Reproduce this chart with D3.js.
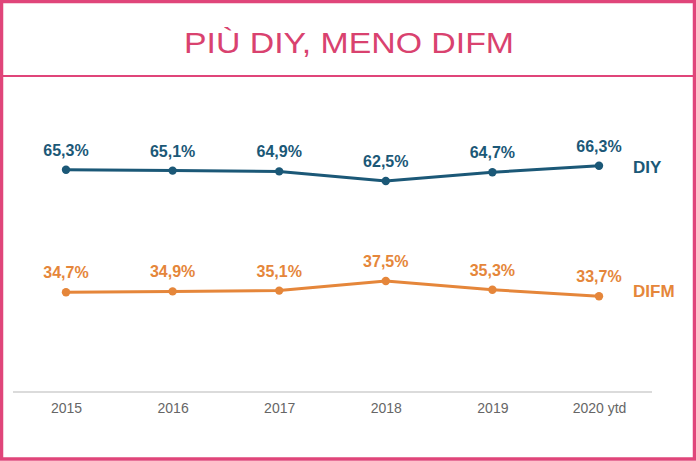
<!DOCTYPE html>
<html><head><meta charset="utf-8">
<script src="https://cdn.jsdelivr.net/npm/d3@7"></script>
<style>html,body{margin:0;padding:0;background:#fff;}svg{display:block;}</style>
</head><body>
<script>
const title = "PIÙ DIY, MENO DIFM";
const categories = ["2015","2016","2017","2018","2019","2020 ytd"];
const diyValues = [65.3, 65.1, 64.9, 62.5, 64.7, 66.3];
const difmValues = [34.7, 34.9, 35.1, 37.5, 35.3, 33.7];
const diyLabels = ["65,3%","65,1%","64,9%","62,5%","64,7%","66,3%"];
const difmLabels = ["34,7%","34,9%","35,1%","37,5%","35,3%","33,7%"];
const seriesNames = ["DIY","DIFM"];

const W = 696, H = 461;
const pink = "#e0457a", pinkText = "#d9426f";
const colors = {DIY: "#1b5877", DIFM: "#e5863a"};

const svg = d3.select("body").append("svg").attr("width", W).attr("height", H);
svg.append("rect").attr("width", W).attr("height", H).attr("fill", "#fff");

// border
svg.append("rect").attr("x", 1.5).attr("y", 1.5).attr("width", W - 3).attr("height", H - 3.5)
  .attr("fill", "none").attr("stroke", pink).attr("stroke-width", 3.5);
svg.append("line").attr("x1", 0).attr("x2", W).attr("y1", 76).attr("y2", 76)
  .attr("stroke", pink).attr("stroke-width", 2);

svg.append("text").attr("x", 349).attr("y", 53).attr("text-anchor", "middle")
  .attr("font-family", "Liberation Sans, Arial, sans-serif").attr("font-size", 29)
  .attr("fill", pinkText).attr("textLength", 330).attr("lengthAdjust", "spacingAndGlyphs")
  .text(title);

const x = d3.scalePoint().domain(categories).range([66, 599]);
const y = d3.scaleLinear().domain([0, 100]).range([431, 31]);

// axis
const axisG = svg.append("g").attr("transform", "translate(0,392)")
  .call(d3.axisBottom(x).tickSize(0).tickPadding(11));
axisG.select(".domain").remove();
axisG.append("line").attr("x1", 13).attr("x2", 652).attr("stroke", "#cfcfcf").attr("stroke-width", 1.5);
axisG.selectAll(".tick text").attr("font-family", "Liberation Sans, Arial, sans-serif")
  .attr("font-size", 14).attr("fill", "#666");

const series = [
  {name: "DIY", values: diyValues, labels: diyLabels, nameDy: 7},
  {name: "DIFM", values: difmValues, labels: difmLabels, nameDy: 1}
];

const line = d3.line().x((d, i) => x(categories[i])).y(d => y(d));

series.forEach(s => {
  const c = colors[s.name];
  const g = svg.append("g");
  g.append("path").attr("d", line(s.values)).attr("fill", "none").attr("stroke", c)
    .attr("stroke-width", 3).attr("stroke-linejoin", "round");
  g.selectAll("circle").data(s.values).join("circle")
    .attr("cx", (d, i) => x(categories[i])).attr("cy", d => y(d)).attr("r", 4.2).attr("fill", c);
  g.selectAll("text.v").data(s.values).join("text").attr("class", "v")
    .attr("x", (d, i) => x(categories[i])).attr("y", d => y(d) - 14)
    .attr("text-anchor", "middle").attr("font-family", "Liberation Sans, Arial, sans-serif")
    .attr("font-weight", "bold").attr("font-size", 16).attr("fill", c)
    .text((d, i) => s.labels[i]);
  const last = s.values[s.values.length - 1];
  g.append("text").attr("x", 633).attr("y", y(last) + s.nameDy)
    .attr("font-family", "Liberation Sans, Arial, sans-serif").attr("font-weight", "bold")
    .attr("font-size", 17).attr("fill", c).text(s.name);
});
</script>
</body></html>
